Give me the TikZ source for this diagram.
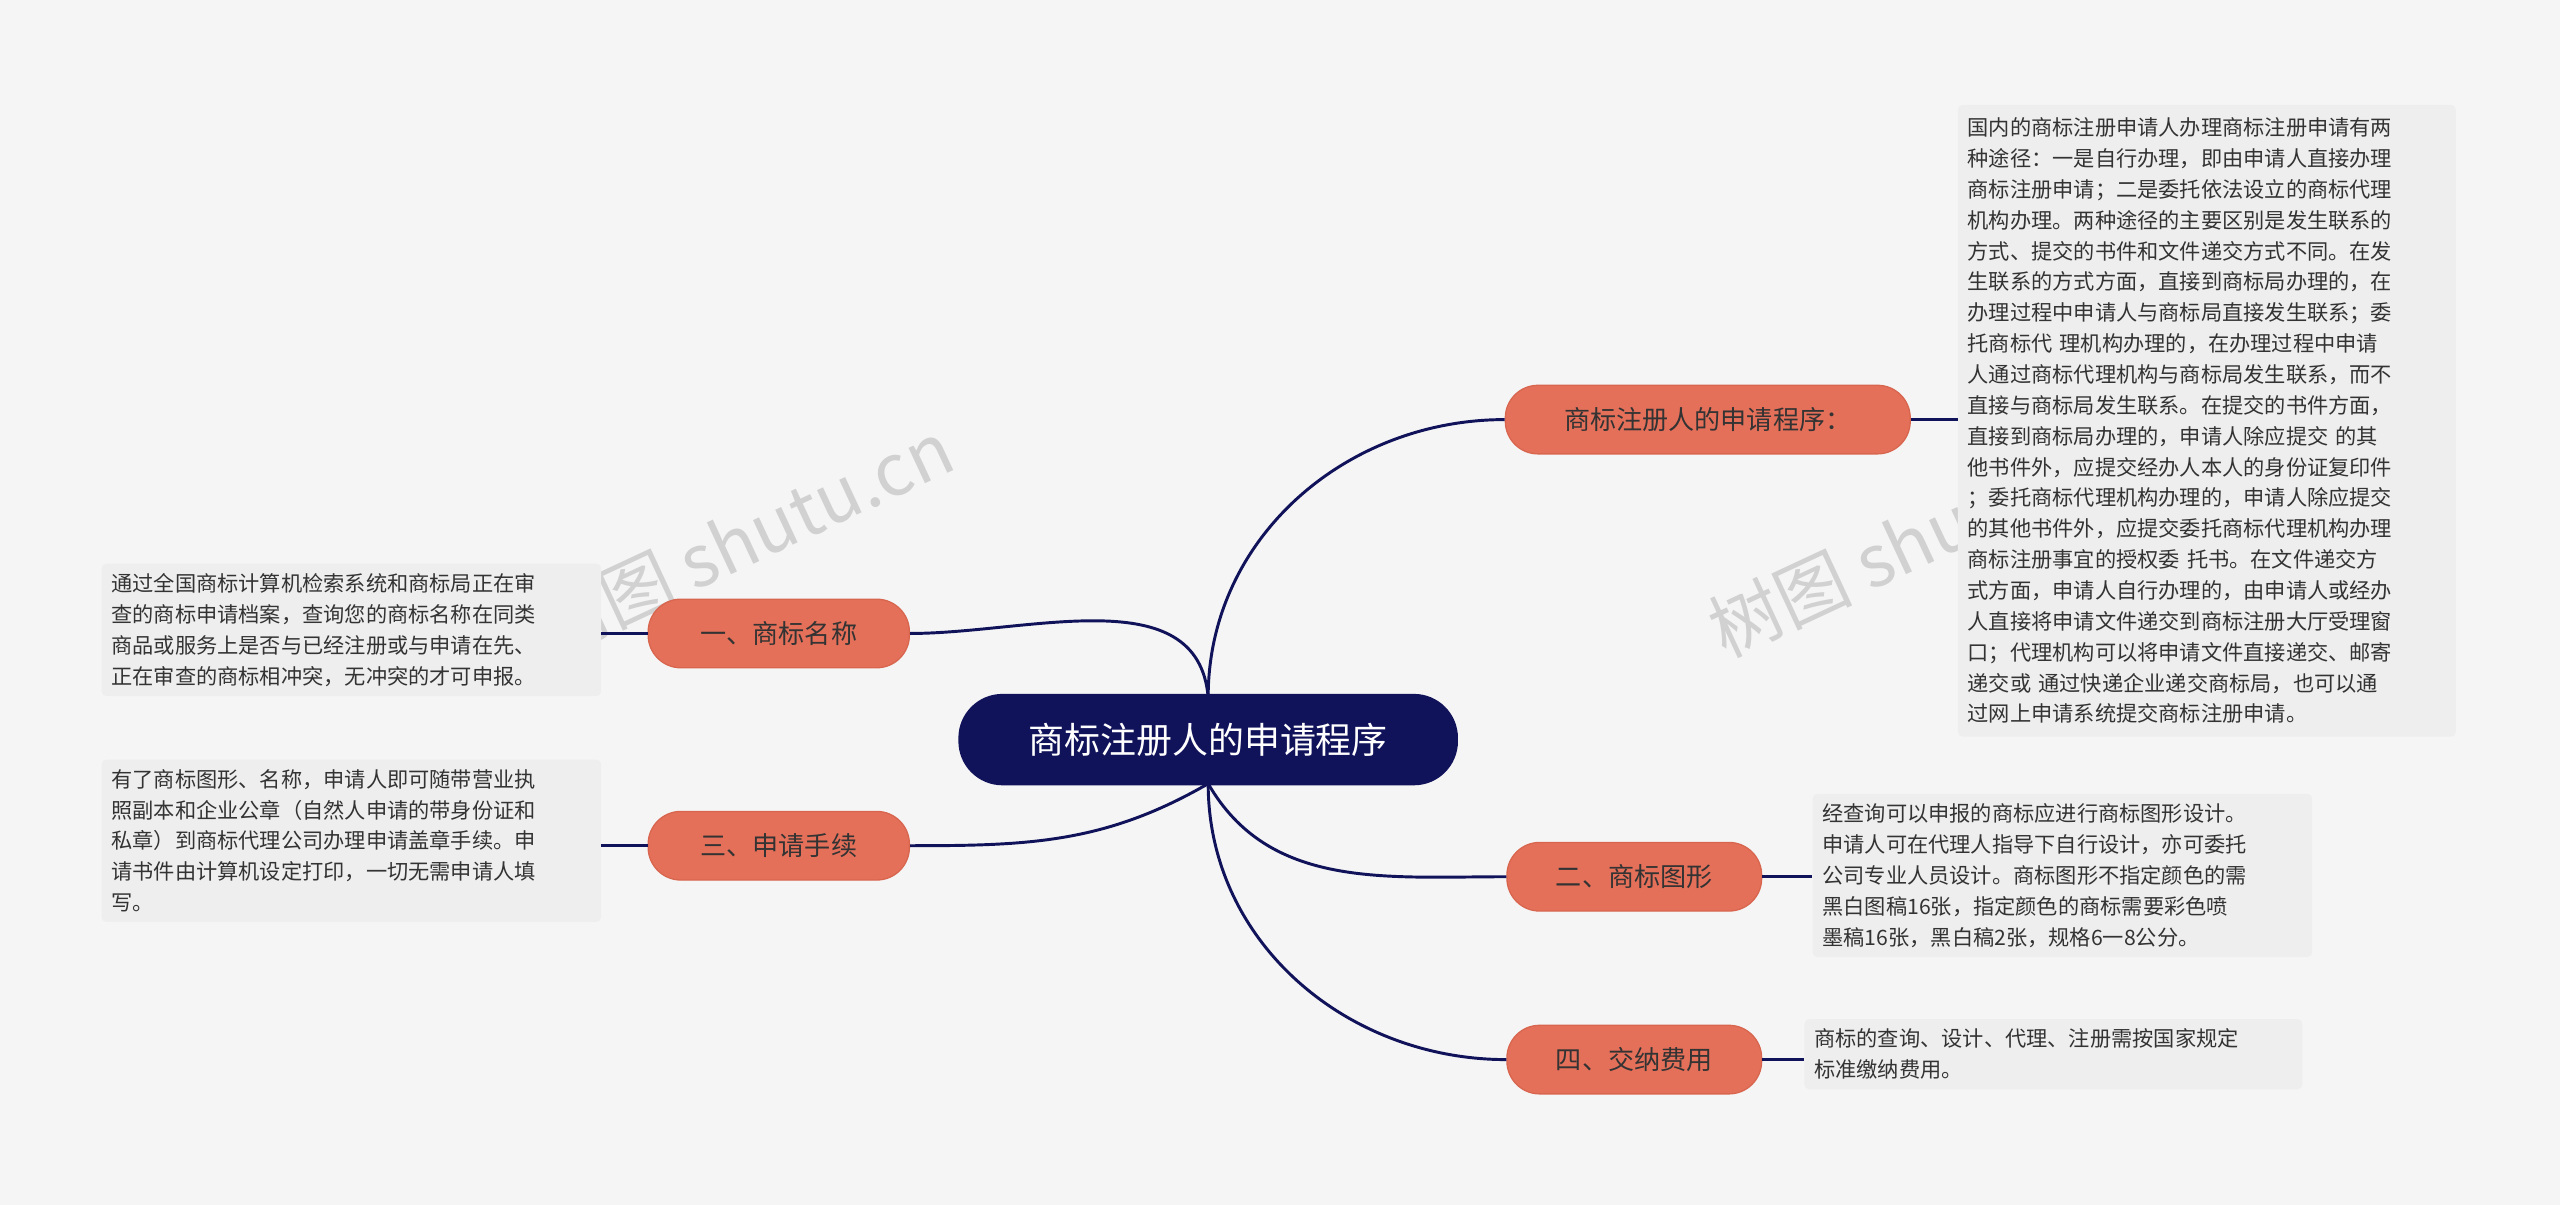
\documentclass[tikz,border=0pt]{standalone}
\usepackage{fontspec}
\setmainfont{Noto Sans CJK SC}
\begin{document}
\begin{tikzpicture}[x=1pt,y=1pt,
  topic/.style={fill=orange1,draw=orange2,line width=0.8pt,rounded corners=20pt,minimum height=42pt,font=\fontsize{16}{18}\selectfont,text=textc},
  tbox/.style={fill=boxc,rounded corners=3pt,align=left,anchor=north west,inner sep=6pt,font=\fontsize{13}{18.9}\selectfont,text=textc},
  conn/.style={draw=navy,line width=1.8pt},
  wm/.style={text=black!18,font=\fontsize{44}{50}\selectfont,rotate=25}]
\definecolor{navy}{HTML}{10125A}
\definecolor{orange1}{HTML}{E5705A}
\definecolor{orange2}{HTML}{D8664F}
\definecolor{boxc}{HTML}{EEEEEE}
\definecolor{textc}{HTML}{333333}
\fill[black!4] (0,0) rectangle (1568,-738);
\useasboundingbox (0,0) rectangle (1568,-738);
\node[wm] (w1) at (455,-330) {树图 shutu.cn};
\node[wm] (w2) at (1175,-330) {树图 shutu.cn};

\node[fill=navy,rounded corners=27pt,minimum width=306pt,minimum height=56pt,text=white,font=\fontsize{22}{24}\selectfont] (c) at (740,-453) {商标注册人的申请程序};
\coordinate (cu) at (740,-427);
\coordinate (cd) at (740,-480);

\node[topic,minimum width=248pt] (a) at (1046,-257) {商标注册人的申请程序：};
\node[topic,minimum width=160pt] (b) at (477,-388) {一、商标名称};
\node[topic,minimum width=160pt] (d) at (477,-518) {三、申请手续};
\node[topic,minimum width=156pt] (e) at (1001,-537) {二、商标图形};
\node[topic,minimum width=156pt] (f) at (1001,-649) {四、交纳费用};

\draw[conn] (cu) to[out=90,in=180] (a.west);
\draw[conn] (cu) to[out=95,in=0] (b.east);
\draw[conn] (cd) to[out=-150,in=0] (d.east);
\draw[conn] (cd) to[out=-60,in=180] (e.west);
\draw[conn] (cd) to[out=-90,in=180] (f.west);

\node[tbox,text width=293pt,minimum height=387pt] (ta) at (1199,-64) {国内的商标注册申请人办理商标注册申请有两\\种途径：一是自行办理，即由申请人直接办理\\商标注册申请；二是委托依法设立的商标代理\\机构办理。两种途径的主要区别是发生联系的\\方式、提交的书件和文件递交方式不同。在发\\生联系的方式方面，直接到商标局办理的，在\\办理过程中申请人与商标局直接发生联系；委\\托商标代 理机构办理的，在办理过程中申请\\人通过商标代理机构与商标局发生联系，而不\\直接与商标局发生联系。在提交的书件方面，\\直接到商标局办理的，申请人除应提交 的其\\他书件外，应提交经办人本人的身份证复印件\\；委托商标代理机构办理的，申请人除应提交\\的其他书件外，应提交委托商标代理机构办理\\商标注册事宜的授权委 托书。在文件递交方\\式方面，申请人自行办理的，由申请人或经办\\人直接将申请文件递交到商标注册大厅受理窗\\口；代理机构可以将申请文件直接递交、邮寄\\递交或 通过快递企业递交商标局，也可以通\\过网上申请系统提交商标注册申请。};
\node[tbox,text width=294pt] (tb) at (62,-345) {通过全国商标计算机检索系统和商标局正在审\\查的商标申请档案，查询您的商标名称在同类\\商品或服务上是否与已经注册或与申请在先、\\正在审查的商标相冲突，无冲突的才可申报。};
\node[tbox,text width=294pt] (td) at (62,-465) {有了商标图形、名称，申请人即可随带营业执\\照副本和企业公章（自然人申请的带身份证和\\私章）到商标代理公司办理申请盖章手续。申\\请书件由计算机设定打印，一切无需申请人填\\写。};
\node[tbox,text width=294pt] (te) at (1110,-486) {经查询可以申报的商标应进行商标图形设计。\\申请人可在代理人指导下自行设计，亦可委托\\公司专业人员设计。商标图形不指定颜色的需\\黑白图稿16张，指定颜色的商标需要彩色喷\\墨稿16张，黑白稿2张，规格6一8公分。};
\node[tbox,text width=293pt] (tf) at (1105,-624) {商标的查询、设计、代理、注册需按国家规定\\标准缴纳费用。};

\draw[conn] (a.east) -- (ta.west |- a.east);
\draw[conn] (b.west) -- (tb.east |- b.west);
\draw[conn] (d.west) -- (td.east |- d.west);
\draw[conn] (e.east) -- (te.west |- e.east);
\draw[conn] (f.east) -- (tf.west |- f.east);
\end{tikzpicture}
\end{document}
